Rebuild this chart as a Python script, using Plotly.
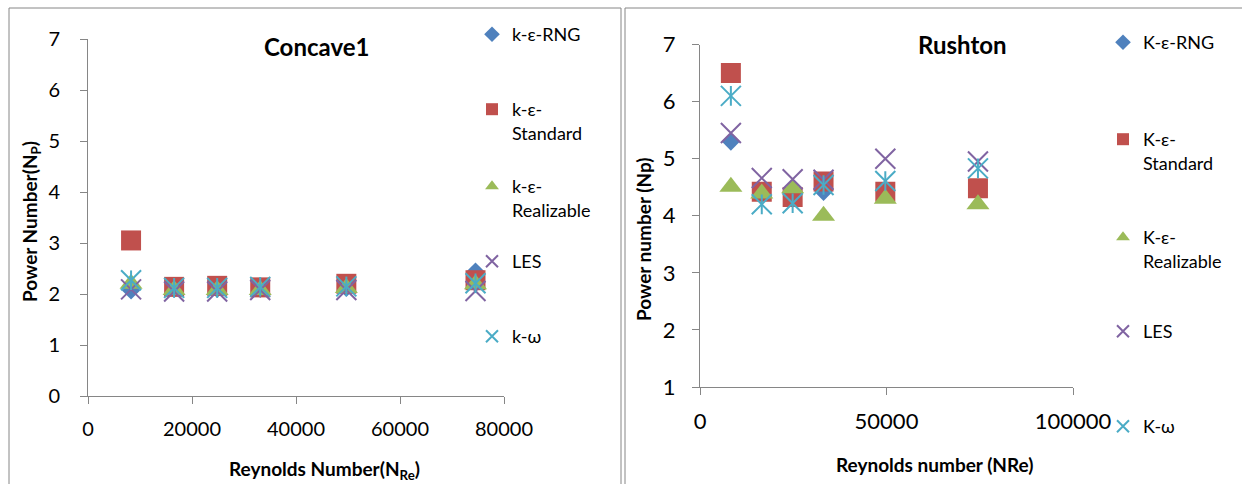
import plotly.graph_objects as go

# Reynolds numbers (same impeller speeds for both impellers)
reynolds = [8280, 16560, 24840, 33120, 49680, 74520]

# Concave1 power numbers per turbulence model
concave_rng = [2.07, 2.10, 2.10, 2.10, 2.12, 2.44]
concave_standard = [3.05, 2.14, 2.16, 2.13, 2.20, 2.27]
concave_realizable = [2.20, 2.08, 2.08, 2.08, 2.12, 2.19]
concave_les = [2.09, 2.05, 2.05, 2.08, 2.08, 2.06]
concave_kw = [2.27, 2.12, 2.12, 2.14, 2.15, 2.21]

# Rushton power numbers per turbulence model
rushton_rng = [5.30, 4.40, 4.35, 4.42, 4.40, 4.45]
rushton_standard = [6.50, 4.42, 4.33, 4.60, 4.42, 4.48]
rushton_realizable = [4.51, 4.39, 4.48, 4.00, 4.30, 4.20]
rushton_les = [5.45, 4.66, 4.64, 4.63, 5.00, 4.95]
rushton_kw = [6.10, 4.20, 4.22, 4.54, 4.61, 4.83]

concave_names = ["k-ε-RNG", "k-ε-<br>Standard", "k-ε-<br>Realizable", "LES", "k-ω"]
rushton_names = ["K-ε-RNG", "K-ε-<br>Standard", "K-ε-<br>Realizable", "LES", "K-ω"]

W, H = 1242, 484
FONT = "Lato"
AXIS_GREY = "#868686"

colors = ["#4F81BD", "#C0504D", "#9BBB59", "#8064A2", "#4BACC6"]
symbols = ["diamond", "square", "triangle-up", "x-thin-open", "x-thin-open"]
sizes = [14, 20, 20, 20, 20]


def px_x(p):
    return p / W


def px_y(p):
    return (H - p) / H


fig = go.Figure()

legend_ids = iter(["legend"] + ["legend%d" % i for i in range(2, 11)])
legend_layout = {}


def add_series(xa, ya, values_list, names, legend_x, legend_y):
    for k, (vals, name) in enumerate(zip(values_list, names)):
        lid = next(legend_ids)
        marker = dict(symbol=symbols[k], size=sizes[k], color=colors[k],
                      line=dict(width=0))
        if "open" in symbols[k]:
            marker["line"] = dict(width=2, color=colors[k])
        fig.add_trace(go.Scatter(
            x=reynolds, y=vals, mode="markers", name=name, marker=marker,
            xaxis=xa, yaxis=ya, legend=lid, showlegend=True,
        ))
        if k == 4:
            # vertical stroke that turns the x marker into a star
            fig.add_trace(go.Scatter(
                x=reynolds, y=vals, mode="markers", showlegend=False,
                marker=dict(symbol="line-ns-open", size=14, color=colors[k],
                            line=dict(width=2, color=colors[k])),
                xaxis=xa, yaxis=ya, hoverinfo="skip",
            ))
        legend_layout[lid] = dict(
            x=px_x(legend_x), y=px_y(legend_y[k] - 19), xanchor="left", yanchor="top",
            bgcolor="rgba(0,0,0,0)", borderwidth=0, valign="top",
            itemsizing="constant", font=dict(family=FONT, size=18, color="#000"),
        )


add_series("x", "y",
           [concave_rng, concave_standard, concave_realizable, concave_les, concave_kw],
           concave_names, 472, [35, 110, 187, 262, 337])
add_series("x2", "y2",
           [rushton_rng, rushton_standard, rushton_realizable, rushton_les, rushton_kw],
           rushton_names, 1103, [43, 140, 238, 332, 427])

axis_common = dict(showgrid=False, zeroline=False, showline=True, linecolor=AXIS_GREY,
                   linewidth=1, ticks="outside", tickcolor=AXIS_GREY, ticklen=7,
                   tickwidth=1, mirror=False, tickformat="d")

fig.update_layout(
    width=W, height=H, margin=dict(l=0, r=0, t=0, b=0, autoexpand=False),
    paper_bgcolor="white", plot_bgcolor="white",
    font=dict(family=FONT, color="#000"),
    xaxis=dict(domain=[px_x(88), px_x(504)], range=[0, 80000], dtick=20000,
               anchor="y", tickfont=dict(size=20), ticklabelstandoff=8, **axis_common),
    yaxis=dict(domain=[px_y(396), px_y(39)], range=[0, 7], dtick=1,
               anchor="x", tickfont=dict(size=20), ticklabelstandoff=16, **axis_common),
    xaxis2=dict(domain=[px_x(700), px_x(1073)], range=[0, 100000], dtick=50000,
                anchor="y2", tickfont=dict(size=22), ticklabelstandoff=8, **axis_common),
    yaxis2=dict(domain=[px_y(387), px_y(44.5)], range=[1, 7], dtick=1,
                anchor="x2", tickfont=dict(size=22), ticklabelstandoff=12, **axis_common),
    **legend_layout,
)

# Chart frames
fig.add_shape(type="rect", xref="paper", yref="paper",
              x0=px_x(9), x1=px_x(621), y0=-0.05, y1=px_y(8),
              line=dict(color=AXIS_GREY, width=1), layer="below")
fig.add_shape(type="rect", xref="paper", yref="paper",
              x0=px_x(625), x1=1.05, y0=-0.05, y1=px_y(8),
              line=dict(color=AXIS_GREY, width=1), layer="below")

# Titles
texts = [
    ("<b>Concave1</b>", 316, 46, 24, 0),
    ("<b>Rushton</b>", 962, 44, 24, 0),
    ("<b>Reynolds Number(N<sub>Re</sub>)</b>", 324, 470, 19, 0),
    ("<b>Reynolds number (NRe)</b>", 935, 464, 19, 0),
    ("<b>Power Number(N<sub>P</sub>)</b>", 31, 222, 19, -90),
    ("<b>Power number (Np)</b>", 643, 240, 19, -90),
]
for txt, cx, cy, size, ang in texts:
    fig.add_annotation(text=txt, xref="paper", yref="paper", x=px_x(cx), y=px_y(cy),
                       xanchor="center", yanchor="middle", showarrow=False,
                       textangle=ang, font=dict(family=FONT, size=size, color="#000"))

fig.write_html("out.html")
